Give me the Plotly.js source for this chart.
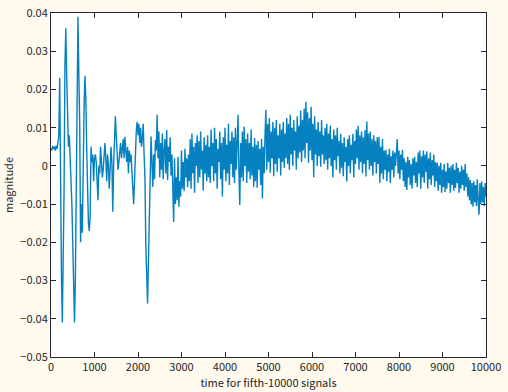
<!DOCTYPE html>
<html>
<head>
<meta charset="utf-8">
<script src="https://cdn.plot.ly/plotly-3.0.1.min.js"></script>
<style>html,body{margin:0;padding:0;background:#FFF9EE;}</style>
</head>
<body>
<div id="chart" style="width:508px;height:392px;"></div>
<script>
// sample spacing of the read-off series (time units)
const sampleStart = 0;
const sampleStep = 20;

const magnitude = [
 0.0046,0.0041,0.0052,0.0044,0.0050,0.0040,0.0053,0.0045,0.0062,0.0080,
 0.0230,-0.0090,-0.0280,-0.0410,-0.0250,-0.0070,0.0260,0.0360,0.0240,0.0120,
 0.0050,0.0080,0.0030,-0.0050,-0.0100,-0.0200,-0.0340,-0.0410,-0.0300,-0.0050,
 0.0200,0.0390,0.0240,0.0110,-0.0200,-0.0100,-0.0175,0.0045,0.0150,0.0235,
 0.0180,0.0050,-0.0110,-0.0150,-0.0170,-0.0130,0.0050,0.0010,0.0030,-0.0040,
 0.0020,0.0030,0.0010,-0.0050,-0.0090,0.0000,-0.0020,0.0050,0.0010,-0.0030,
 -0.0010,0.0040,0.0060,0.0020,-0.0040,0.0030,0.0000,-0.0060,0.0020,0.0050,
 0.0010,-0.0120,0.0000,0.0060,0.0130,0.0080,0.0030,-0.0010,0.0010,0.0050,
 0.0060,0.0020,0.0040,0.0070,0.0020,0.0076,0.0040,0.0010,0.0050,-0.0020,
 0.0040,0.0010,0.0030,-0.0030,-0.0060,-0.0100,-0.0040,0.0040,0.0090,0.0115,
 0.0080,0.0110,0.0060,0.0100,0.0050,0.0070,0.0110,0.0030,-0.0030,-0.0210,
 -0.0320,-0.0360,-0.0250,-0.0150,-0.0015,0.0077,0.0010,-0.0055,0.0030,-0.0035,
 0.0068,0.0040,0.0134,0.0020,0.0090,-0.0030,0.0060,-0.0010,0.0085,-0.0035,
 0.0040,0.0070,-0.0020,0.0094,-0.0037,0.0050,0.0010,0.0075,-0.0025,0.0030,
 -0.0060,-0.0147,0.0020,-0.0100,-0.0030,-0.0090,0.0024,-0.0107,-0.0040,-0.0080,
 0.0040,-0.0060,0.0010,-0.0066,0.0045,-0.0030,0.0020,-0.0055,0.0030,-0.0040,
 0.0070,-0.0060,0.0085,-0.0020,0.0050,-0.0070,0.0060,0.0000,0.0080,-0.0045,
 0.0065,-0.0030,0.0090,-0.0010,0.0040,-0.0065,0.0075,-0.0020,0.0055,-0.0040,
 0.0080,-0.0030,0.0050,-0.0045,0.0095,0.0000,0.0060,-0.0040,0.0100,-0.0020,
 0.0070,-0.0060,0.0045,0.0010,0.0090,-0.0035,0.0060,-0.0080,0.0075,-0.0010,
 0.0100,-0.0040,0.0055,-0.0020,0.0110,-0.0050,0.0065,0.0005,0.0090,-0.0030,
 0.0075,-0.0045,0.0100,-0.0010,0.0060,0.0134,-0.0020,-0.0102,0.0060,-0.0030,
 0.0090,-0.0040,0.0103,0.0000,0.0070,-0.0045,0.0085,-0.0015,0.0060,-0.0035,
 0.0095,-0.0025,0.0050,-0.0055,0.0073,-0.0040,0.0055,-0.0057,0.0065,-0.0010,
 0.0045,-0.0050,0.0070,-0.0085,0.0050,-0.0020,0.0080,0.0147,-0.0010,0.0110,
 0.0010,0.0125,-0.0018,0.0090,0.0020,0.0115,-0.0027,0.0100,0.0005,0.0120,
 -0.0015,0.0080,0.0020,0.0110,-0.0025,0.0095,0.0010,0.0115,-0.0005,0.0085,
 0.0020,0.0125,0.0005,0.0110,-0.0010,0.0134,0.0030,0.0100,0.0000,0.0120,
 0.0040,0.0090,-0.0010,0.0130,0.0020,0.0105,0.0035,0.0145,0.0010,0.0120,
 0.0040,0.0150,0.0020,0.0168,0.0060,0.0140,0.0008,0.0125,0.0040,0.0155,
 0.0015,0.0110,-0.0030,0.0130,0.0030,0.0095,0.0000,0.0115,0.0025,0.0090,
 -0.0002,0.0120,0.0030,0.0080,0.0005,0.0100,0.0015,0.0110,-0.0010,0.0085,
 0.0020,0.0105,0.0000,0.0070,-0.0030,0.0095,0.0015,0.0080,-0.0010,0.0100,
 0.0025,0.0065,-0.0020,0.0084,-0.0005,0.0060,-0.0027,0.0075,0.0010,0.0050,
 -0.0041,0.0070,0.0000,0.0080,-0.0020,0.0055,0.0015,0.0084,-0.0030,0.0065,
 0.0005,0.0095,0.0020,0.0105,-0.0010,0.0080,0.0010,0.0090,-0.0020,0.0075,
 0.0005,0.0094,-0.0028,0.0116,0.0015,0.0085,-0.0010,0.0090,0.0000,0.0070,
 -0.0025,0.0080,0.0010,0.0065,-0.0020,0.0075,0.0005,0.0076,-0.0045,0.0050,
 -0.0020,0.0070,-0.0035,0.0040,-0.0010,0.0042,-0.0040,0.0030,-0.0015,0.0045,
 -0.0045,0.0025,-0.0010,0.0040,-0.0030,0.0035,0.0000,0.0055,0.0070,-0.0020,
 0.0040,-0.0035,0.0030,-0.0010,0.0042,-0.0040,0.0020,-0.0055,0.0010,-0.0063,
 0.0024,-0.0030,0.0015,-0.0050,0.0005,-0.0060,0.0020,-0.0025,0.0024,-0.0045,
 0.0010,-0.0055,0.0035,-0.0020,0.0040,-0.0060,0.0025,-0.0030,0.0040,-0.0045,
 0.0030,-0.0015,0.0038,-0.0060,0.0020,-0.0035,0.0035,-0.0050,0.0015,-0.0025,
 0.0030,-0.0055,0.0010,-0.0040,0.0008,-0.0065,0.0000,-0.0050,0.0008,-0.0070,
 -0.0010,-0.0055,0.0005,-0.0068,-0.0015,-0.0060,0.0008,-0.0045,-0.0005,-0.0070,
 0.0000,-0.0050,0.0005,-0.0065,-0.0010,-0.0058,0.0008,-0.0045,-0.0005,-0.0070,
 -0.0015,-0.0060,0.0000,-0.0050,-0.0010,-0.0065,0.0005,-0.0055,-0.0020,-0.0080,
 -0.0030,-0.0090,-0.0037,-0.0100,-0.0045,-0.0107,-0.0040,-0.0095,-0.0050,-0.0105,
 -0.0035,-0.0090,-0.0128,-0.0045,-0.0100,-0.0040,-0.0095,-0.0055,-0.0105,-0.0045,
 -0.0080
];

const xTickVals = [0,1000,2000,3000,4000,5000,6000,7000,8000,9000,10000];
const xTickText = ["0","1000","2000","3000","4000","5000","6000","7000","8000","9000","10000"];
const yTickVals = [-0.05,-0.04,-0.03,-0.02,-0.01,0,0.01,0.02,0.03,0.04];
const yTickText = ["\u22120.05","\u22120.04","\u22120.03","\u22120.02","\u22120.01","0","0.01","0.02","0.03","0.04"];

const FONT = '"Noto Sans CJK JP", "DejaVu Sans", sans-serif';
const AX = '#262638';

const trace = {
  type: 'scatter',
  mode: 'lines',
  x0: sampleStart,
  dx: sampleStep,
  y: magnitude,
  line: {color: '#0580C0', width: 1.4},
  hoverinfo: 'none'
};

const axisCommon = {
  showgrid: false,
  zeroline: false,
  showline: true,
  linecolor: AX,
  linewidth: 1,
  mirror: 'ticks',
  ticks: 'inside',
  ticklen: 5,
  tickcolor: AX,
  tickfont: {family: FONT, size: 11, color: '#262626'},
  tickmode: 'array'
};

const layout = {
  width: 508,
  height: 392,
  paper_bgcolor: '#FFF9EE',
  plot_bgcolor: '#FFFFFF',
  margin: {l: 51, r: 22, t: 13, b: 35},
  showlegend: false,
  xaxis: Object.assign({}, axisCommon, {
    range: [0, 10000],
    tickvals: xTickVals,
    ticktext: xTickText,
    title: {text: 'time for fifth-10000 signals', font: {family: FONT, size: 11, color: '#262626'}, standoff: 1}
  }),
  yaxis: Object.assign({}, axisCommon, {
    range: [-0.05, 0.04],
    tickvals: yTickVals,
    ticktext: yTickText,
    title: {text: 'magnitude', font: {family: FONT, size: 11, color: '#262626'}, standoff: 6}
  })
};

Plotly.newPlot('chart', [trace], layout, {displayModeBar: false, staticPlot: true});
</script>
</body>
</html>
